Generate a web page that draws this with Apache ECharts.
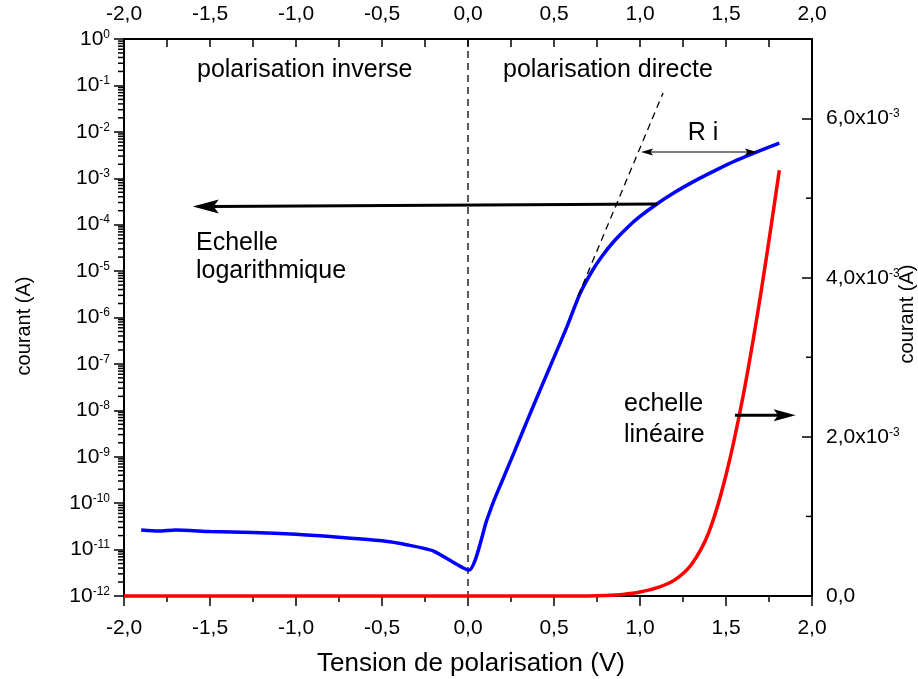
<!DOCTYPE html>
<html>
<head>
<meta charset="utf-8">
<script src="https://cdn.jsdelivr.net/npm/echarts@6/dist/echarts.min.js"></script>
<style>
  html, body { margin: 0; padding: 0; background: #fff; }
  #chart { width: 918px; height: 679px; }
</style>
</head>
<body>
<div id="chart"></div>
<script>
// Diode I-V characteristic: log-scale current (left axis) and linear current (right axis)

// Blue curve, log scale (V, A)
const biasLog = [-1.90, -1.80, -1.70, -1.50, -1.25, -1.00, -0.80, -0.50, -0.35, -0.20,
  0.005, 0.11, 0.15, 0.21, 0.27, 0.34, 0.42, 0.50, 0.575, 0.65,
  0.72, 0.78, 0.85, 0.93, 1.00, 1.10, 1.20, 1.30, 1.45, 1.56,
  1.68, 1.81];
const currentLog = [2.63e-11, 2.51e-11, 2.65e-11, 2.45e-11, 2.32e-11, 2.14e-11, 1.91e-11, 1.55e-11, 1.26e-11, 9.3e-12,
  3.6e-12, 4.4e-11, 1.12e-10, 3.8e-10, 1.29e-9, 5.5e-9, 2.8e-8, 1.38e-7, 6.3e-7, 3.2e-6,
  9.8e-6, 2.12e-5, 4.45e-5, 8.95e-5, 1.50e-4, 2.82e-4, 4.91e-4, 8.05e-4, 1.55e-3, 2.42e-3,
  3.71e-3, 5.71e-3];

// Red curve, linear scale (V, A)
const biasLin = [-2.0, -1.5, -1.0, -0.5, 0.0, 0.5, 0.7, 0.8, 0.9, 1.0, 1.1, 1.2, 1.3, 1.4, 1.5, 1.6, 1.7, 1.81];
const currentLin = [0, 0, 0, 0, 0, 0, 0, 6e-6, 2.0e-5, 5.0e-5, 1.05e-4, 2.0e-4, 4.0e-4, 8.0e-4, 1.52e-3, 2.52e-3, 3.77e-3, 5.35e-3];

// Reference lines and arrows (V, A)
const zeroBiasV = [0, 0];
const zeroBiasI = [1, 1e-12];
const tangentV = [0.64, 1.134];
const tangentI = [2.9e-6, 6.9e-2];
const logArrowV = [1.10, -1.60];
const logArrowI = [2.8e-4, 2.45e-4];
const riArrowV = [1.006, 1.68];
const riArrowI = [3.68e-3, 3.68e-3];
const linArrowV = [1.552, 1.905];
const linArrowI = [2.27e-3, 2.27e-3];

// Axes
const biasMin = -2, biasMax = 2, biasStep = 0.5;
const logMin = 1e-12, logMax = 1;
const linMax = 7e-3, linStep = 2e-3;
const linMajorTicks = [0, 2e-3, 4e-3, 6e-3];
const linMinorTicks = [1e-3, 3e-3, 5e-3];
const logMinorFactors = [2, 3, 4, 5, 6, 7, 8, 9];

const FONT = '"Liberation Sans", Arial, Helvetica, sans-serif';
const BLACK = '#000';

const zip = (xs, ys) => xs.map((x, i) => [x, ys[i]]);

const logMinorTicks = [];
for (let e = -12; e < 0; e++) {
  logMinorFactors.forEach(f => logMinorTicks.push(f * Math.pow(10, e)));
}

const richTick = {
  b: { fontSize: 21, lineHeight: 21, verticalAlign: 'bottom', fontFamily: FONT, color: BLACK },
  e: { fontSize: 12, lineHeight: 12, padding: [0, 0, 13, 0], verticalAlign: 'top', fontFamily: FONT, color: BLACK }
};

const commaNum = v => v.toFixed(1).replace('.', ',');

function minorTickSeries(values, yAxisIndex, xVal, len) {
  return {
    type: 'custom', xAxisIndex: 0, yAxisIndex: yAxisIndex, clip: false, silent: true, z: 6,
    data: values.map(v => [xVal, v]),
    renderItem: function (params, api) {
      const p = api.coord([api.value(0), api.value(1)]);
      return {
        type: 'line',
        shape: { x1: p[0] - len, y1: p[1], x2: p[0], y2: p[1] },
        style: { stroke: BLACK, lineWidth: 1.5 }
      };
    }
  };
}

function arrowSeries(yAxisIndex, vs, is, opt) {
  return {
    type: 'custom', xAxisIndex: 0, yAxisIndex: yAxisIndex, clip: false, silent: true, z: 8,
    data: [[vs[0], is[0], vs[1], is[1]]],
    renderItem: function (params, api) {
      const a = api.coord([api.value(0), api.value(1)]);
      const b = api.coord([api.value(2), api.value(3)]);
      const dx = b[0] - a[0], dy = b[1] - a[1];
      const d = Math.sqrt(dx * dx + dy * dy);
      const ux = dx / d, uy = dy / d, nx = -uy, ny = ux;
      const L = opt.headLen, W = opt.headWidth / 2;
      const head = (tip, sx, sy) => {
        const bx = tip[0] - sx * L, by = tip[1] - sy * L;
        const mx = tip[0] - sx * L * 0.8, my = tip[1] - sy * L * 0.8;
        return {
          type: 'polygon',
          shape: { points: [tip, [bx + nx * W, by + ny * W], [mx, my], [bx - nx * W, by - ny * W]] },
          style: { fill: BLACK }
        };
      };
      const start = opt.both ? [a[0] + ux * L * 0.8, a[1] + uy * L * 0.8] : a;
      const end = [b[0] - ux * L * 0.8, b[1] - uy * L * 0.8];
      const children = [{
        type: 'line',
        shape: { x1: start[0], y1: start[1], x2: end[0], y2: end[1] },
        style: { stroke: BLACK, lineWidth: opt.width }
      }, head(b, ux, uy)];
      if (opt.both) children.push(head(a, -ux, -uy));
      return { type: 'group', children: children };
    }
  };
}

const annotation = (text, x, y, size, align) => ({
  type: 'text', x: x, y: y, silent: true, z: 20,
  style: { text: text, fontSize: size, fontFamily: FONT, fill: BLACK, align: align || 'left', verticalAlign: 'middle' }
});

const chart = echarts.init(document.getElementById('chart'), null, { renderer: 'canvas' });

chart.setOption({
  animation: false,
  backgroundColor: '#fff',
  grid: { left: 124, right: 106, top: 39, bottom: 83, containLabel: false },
  xAxis: [{
    type: 'value', position: 'bottom', min: biasMin, max: biasMax, interval: biasStep,
    axisLine: { show: true, onZero: false, lineStyle: { color: BLACK, width: 2 } },
    axisTick: { show: true, inside: false, length: 10, lineStyle: { color: BLACK, width: 1.5 } },
    minorTick: { show: true, splitNumber: 2, length: 6, lineStyle: { color: BLACK, width: 1.5 } },
    splitLine: { show: false },
    axisLabel: { margin: 22, fontSize: 21, fontFamily: FONT, color: BLACK, formatter: commaNum }
  }, {
    type: 'value', position: 'top', min: biasMin, max: biasMax, interval: biasStep,
    axisLine: { show: true, onZero: false, lineStyle: { color: BLACK, width: 2 } },
    axisTick: { show: true, inside: true, length: 8, lineStyle: { color: BLACK, width: 1.5 } },
    minorTick: { show: true, splitNumber: 2, length: 8, lineStyle: { color: BLACK, width: 1.5 } },
    splitLine: { show: false },
    axisLabel: { margin: 14, fontSize: 21, fontFamily: FONT, color: BLACK, formatter: commaNum }
  }],
  yAxis: [{
    type: 'log', logBase: 10, position: 'left', min: logMin, max: logMax, interval: 1,
    axisLine: { show: true, onZero: false, lineStyle: { color: BLACK, width: 2 } },
    axisTick: { show: true, inside: false, length: 10, lineStyle: { color: BLACK, width: 1.5 } },
    splitLine: { show: false },
    axisLabel: {
      margin: 14, rich: richTick,
      formatter: v => '{b|10}{e|' + Math.round(Math.log10(v)) + '}'
    }
  }, {
    type: 'value', position: 'right', min: 0, max: linMax, interval: linStep,
    axisLine: { show: true, onZero: false, lineStyle: { color: BLACK, width: 2 } },
    axisTick: { show: true, inside: true, length: 10, customValues: linMajorTicks, lineStyle: { color: BLACK, width: 1.5 } },
    splitLine: { show: false },
    axisLabel: {
      margin: 14, rich: richTick, customValues: linMajorTicks,
      formatter: v => v === 0 ? '{b|0,0}' : '{b|' + commaNum(v / 1e-3) + 'x10}{e|-3}'
    }
  }],
  series: [
    minorTickSeries(logMinorTicks, 0, biasMin, 6),
    minorTickSeries(linMinorTicks, 1, biasMax, 6),
    {
      name: 'zero', type: 'line', xAxisIndex: 0, yAxisIndex: 0, data: zip(zeroBiasV, zeroBiasI),
      symbol: 'none', silent: true, z: 3,
      lineStyle: { color: BLACK, width: 1.3, type: [7, 5] }
    },
    {
      name: 'tangente', type: 'line', xAxisIndex: 0, yAxisIndex: 0, data: zip(tangentV, tangentI),
      symbol: 'none', silent: true, z: 5,
      lineStyle: { color: BLACK, width: 1.3, type: [7, 5] }
    },
    {
      name: 'log', type: 'line', xAxisIndex: 0, yAxisIndex: 0, data: zip(biasLog, currentLog),
      symbol: 'none', smooth: 0.2, z: 4,
      lineStyle: { color: '#0000ff', width: 3.5 }
    },
    {
      name: 'lin', type: 'line', xAxisIndex: 0, yAxisIndex: 1, data: zip(biasLin, currentLin),
      symbol: 'none', smooth: 0.35, clip: false, z: 7,
      lineStyle: { color: '#ff0000', width: 3.5 }
    },
    arrowSeries(0, logArrowV, logArrowI, { width: 3, headLen: 26, headWidth: 14, both: false }),
    arrowSeries(0, riArrowV, riArrowI, { width: 1.2, headLen: 12, headWidth: 7, both: true }),
    arrowSeries(1, linArrowV, linArrowI, { width: 3, headLen: 22, headWidth: 12, both: false })
  ],
  graphic: [
    annotation('polarisation inverse', 197, 70, 25),
    annotation('polarisation directe', 503, 70, 25),
    annotation('Echelle', 196, 243, 25),
    annotation('logarithmique', 196, 271, 25),
    annotation('echelle', 624, 404, 25),
    annotation('linéaire', 624, 435, 25),
    annotation('R i', 703, 133, 25, 'center'),
    annotation('Tension de polarisation (V)', 471, 664, 26, 'center'),
    {
      type: 'text', x: 24, y: 326, rotation: Math.PI / 2, silent: true,
      style: { text: 'courant (A)', fontSize: 20, fontFamily: FONT, fill: BLACK, align: 'center', verticalAlign: 'middle' }
    },
    {
      type: 'text', x: 907, y: 314, rotation: Math.PI / 2, silent: true,
      style: { text: 'courant (A)', fontSize: 20, fontFamily: FONT, fill: BLACK, align: 'center', verticalAlign: 'middle' }
    }
  ]
});
</script>
</body>
</html>
